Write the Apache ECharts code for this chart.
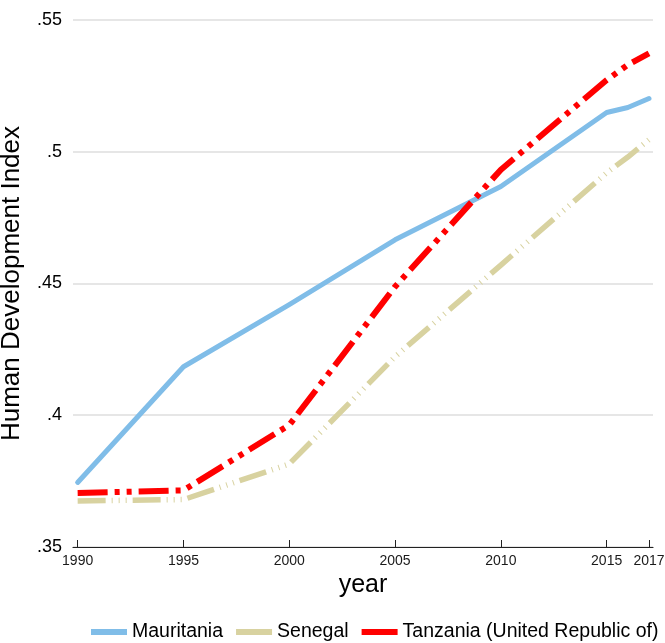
<!DOCTYPE html>
<html>
<head>
<meta charset="utf-8">
<script src="https://cdn.jsdelivr.net/npm/echarts@6/dist/echarts.min.js"></script>
<style>
  html, body { margin: 0; padding: 0; background: #fff; }
  #chart { width: 665px; height: 643px; }
</style>
</head>
<body>
<div id="chart"></div>
<script>
const years = [1990, 1995, 2000, 2005, 2010, 2015, 2016, 2017];
const mauritania = [0.3745, 0.4184, 0.442, 0.4666, 0.4868, 0.5149, 0.5168, 0.5202];
const senegal = [0.3675, 0.368, 0.3815, 0.4222, 0.457, 0.492, 0.498, 0.5046];
const tanzania = [0.3705, 0.3715, 0.3963, 0.4488, 0.4932, 0.5272, 0.533, 0.5373];
const xTicks = [1990, 1995, 2000, 2005, 2010, 2015, 2017];
const yTicks = [0.35, 0.4, 0.45, 0.5, 0.55];

const pairs = vals => years.map((y, i) => [y, vals[i]]);
const font = '"Liberation Sans", Arial, sans-serif';

var chart = echarts.init(document.getElementById('chart'));
chart.setOption({
    animation: false,
    backgroundColor: '#ffffff',
    grid: { left: 73, right: 12, top: 20, bottom: 96, outerBoundsMode: 'none', containLabel: false },
    legend: {
        left: 91,
        bottom: 1,
        padding: 0,
        icon: 'rect',
        itemWidth: 36,
        itemHeight: 6,
        itemGap: 13,
        textStyle: { fontSize: 19.5, fontFamily: font, color: '#000' },
        data: ['Mauritania', 'Senegal', 'Tanzania (United Republic of)']
    },
    xAxis: {
        type: 'value',
        min: 1989.78,
        max: 2017.19,
        name: 'year',
        nameLocation: 'middle',
        nameGap: 19,
        nameTextStyle: { fontSize: 25, fontFamily: font, color: '#000' },
        axisLine: { show: true, lineStyle: { color: '#222', width: 1.2 } },
        axisTick: { show: true, inside: true, length: 7, customValues: xTicks, lineStyle: { color: '#222' } },
        axisLabel: {
            customValues: xTicks,
            margin: 7,
            fontSize: 14,
            fontFamily: font,
            color: '#1a1a1a',
            formatter: v => String(v)
        },
        splitLine: { show: false }
    },
    yAxis: {
        type: 'value',
        min: 0.35,
        max: 0.55,
        name: 'Human Development Index',
        nameLocation: 'middle',
        nameGap: 48,
        nameTextStyle: { fontSize: 26, fontFamily: font, color: '#000' },
        axisLine: { show: false },
        axisTick: { show: false, customValues: yTicks },
        axisLabel: {
            customValues: yTicks,
            margin: 11,
            fontSize: 18,
            fontFamily: font,
            color: '#000',
            formatter: v => String(+v.toFixed(2)).replace(/^0\./, '.')
        },
        splitLine: { show: true, lineStyle: { color: '#dedede', width: 1.5 } }
    },
    series: [
        {
            name: 'Mauritania',
            type: 'line',
            symbol: 'none',
            data: pairs(mauritania),
            color: '#80bde8',
            lineStyle: { color: '#80bde8', width: 5, cap: 'round', join: 'round' }
        },
        {
            name: 'Senegal',
            type: 'line',
            symbol: 'none',
            data: pairs(senegal),
            color: '#d8d2a0',
            lineStyle: { color: '#d8d2a0', width: 5.5, type: [28, 6, 1, 6, 1, 6, 1, 6] }
        },
        {
            name: 'Tanzania (United Republic of)',
            type: 'line',
            symbol: 'none',
            data: pairs(tanzania),
            color: '#ff0000',
            lineStyle: { color: '#ff0000', width: 6, type: [30, 7, 5, 7, 5, 7] }
        }
    ]
});
</script>
</body>
</html>
